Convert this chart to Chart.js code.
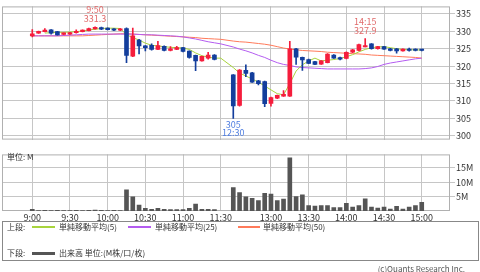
<!DOCTYPE html>
<html>
<head>
<meta charset="utf-8">
<script src="https://cdn.jsdelivr.net/npm/chart.js@4.4.1/dist/chart.umd.min.js"></script>
<style>
body { margin: 0; width: 480px; height: 272px; background: #fff; position: relative; overflow: hidden; font-family: "Noto Sans CJK JP", sans-serif; color: #333; }
#pricebox { position: absolute; left: 0; top: 0; }
#volbox { position: absolute; left: 0; top: 148px; }
.t { position: absolute; font-size: 8px; line-height: 10px; white-space: nowrap; }
.ln { position: absolute; }
#legend { position: absolute; left: 2px; top: 221px; width: 475px; height: 38px; border: 1px solid #888; }
</style>
</head>
<body>
<div id="pricebox"><canvas id="price" width="480" height="146"></canvas></div>
<div id="volbox"><canvas id="vol" width="480" height="74"></canvas></div>
<div class="t" style="left:7px;top:152px;">単位: M</div>

<div id="legend"></div>
<div class="t" style="left:7px;top:222px;">上段:</div>
<div class="ln" style="left:32px;top:226px;width:23px;height:1.5px;background:#a8d43c;"></div>
<div class="t" style="left:59px;top:222px;">単純移動平均(5)</div>
<div class="ln" style="left:128px;top:226px;width:23px;height:1.5px;background:#b45cf0;"></div>
<div class="t" style="left:155px;top:222px;">単純移動平均(25)</div>
<div class="ln" style="left:238px;top:226px;width:22px;height:1.5px;background:#ff7a5a;"></div>
<div class="t" style="left:263px;top:222px;">単純移動平均(50)</div>
<div class="t" style="left:7px;top:248px;">下段:</div>
<div class="ln" style="left:32px;top:252px;width:23px;height:2.5px;background:#555;"></div>
<div class="t" style="left:59px;top:248px;">出来高 単位:(M株/口/枚)</div>
<div class="t" style="right:15px;top:264px;color:#555;">(c)Quants Research Inc.</div>

<script>
const FONT = '"Noto Sans CJK JP", sans-serif';

// 5-minute bars; index 31 is the lunch break separator
const times = ['9:00','9:05','9:10','9:15','9:20','9:25','9:30','9:35','9:40','9:45',
  '9:50','9:55','10:00','10:05','10:10','10:15','10:20','10:25','10:30','10:35',
  '10:40','10:45','10:50','10:55','11:00','11:05','11:10','11:15','11:20','11:25',
  '11:30','',
  '12:30','12:35','12:40','12:45','12:50','12:55','13:00','13:05','13:10','13:15',
  '13:20','13:25','13:30','13:35','13:40','13:45','13:50','13:55','14:00','14:05',
  '14:10','14:15','14:20','14:25','14:30','14:35','14:40','14:45','14:50','14:55','15:00'];

const opens = [328.7,329.5,329.9,330.4,329.9,329.1,329.2,329.6,329.9,330.2,
  330.7,331.1,330.9,330.7,330.3,330.8,322.9,327.5,325.8,326.0,
  324.8,325.7,324.5,324.8,325.3,324.3,323.1,321.5,322.3,323.2,
  null,null,
  317.5,308.7,318.8,318.1,315.8,315.6,309.3,310.8,311.4,311.4,
  325.0,322.5,321.9,321.3,320.6,321.0,323.2,322.4,322.2,324.0,
  324.5,325.5,326.4,325.0,325.6,325.0,325.0,324.4,324.9,324.9,324.8];
const highs = [330.5,330.1,330.8,330.5,330.0,329.6,329.7,330.4,330.4,330.9,
  331.3,331.2,331.0,330.8,330.8,331.0,330.9,327.7,325.9,326.4,
  327.1,325.8,325.6,325.7,325.4,324.4,323.2,322.9,324.0,323.3,
  null,null,
  317.6,319.0,320.4,318.2,315.9,315.7,311.1,311.7,313.0,327.1,
  325.1,322.6,322.0,321.4,321.6,323.6,323.3,322.6,324.1,324.8,
  326.3,327.9,326.5,325.7,325.7,325.1,325.1,325.0,325.2,325.0,324.9];
const lows = [328.4,329.4,329.8,329.2,328.9,329.0,329.1,329.5,329.8,330.1,
  330.6,330.5,330.4,330.2,330.2,321.0,322.7,323.5,324.4,324.6,
  324.7,324.4,324.4,324.7,324.1,322.3,318.7,321.4,322.0,321.8,
  null,null,
  305.0,308.5,317.0,315.3,314.6,308.4,308.5,310.7,311.3,311.3,
  320.5,318.8,320.7,320.4,320.5,320.9,322.2,321.8,322.1,323.9,
  324.4,325.5,324.9,324.9,324.8,324.4,323.7,324.3,324.3,324.4,324.4];
const closes = [329.3,330.0,330.3,329.5,329.0,329.5,329.6,330.0,330.3,330.8,
  331.0,330.6,330.5,330.3,330.7,323.1,328.7,325.8,325.3,324.8,
  325.9,324.5,325.0,325.3,324.2,322.5,321.5,322.8,323.2,321.9,
  null,null,
  308.6,318.9,317.9,315.4,315.0,309.2,311.0,311.6,311.9,325.0,
  322.6,321.8,320.8,320.5,321.5,323.5,322.3,322.0,324.0,324.7,
  326.2,325.9,325.0,325.6,324.9,324.5,324.4,324.9,324.5,324.5,324.5];

const ma5 = [null,null,329.5,329.6,329.7,329.7,329.8,329.9,330.1,330.4,
  330.6,330.8,330.9,330.9,330.8,329.0,328.2,327.5,326.6,326.0,
  325.8,325.6,325.4,325.3,325.2,324.8,323.8,323.0,322.6,322.3,
  322.3,null,
  319.6,318.0,317.2,316.3,315.4,314.3,313.2,312.1,311.8,315.0,
  318.6,320.4,321.5,322.3,321.5,321.7,321.9,322.2,322.7,323.3,
  324.1,324.8,325.3,325.5,325.6,325.3,325.0,324.8,324.7,324.7,324.6];
const ma25 = [328.7,328.7,328.7,328.7,328.7,328.8,328.9,329.0,329.1,329.2,
  329.2,329.2,329.2,329.2,329.2,329.2,329.2,329.1,329.0,329.0,
  328.9,328.8,328.7,328.6,328.4,328.1,327.8,327.4,327.0,326.7,
  326.4,null,
  325.5,324.9,324.4,323.8,323.1,322.5,321.7,321.0,320.5,320.2,
  319.8,319.6,319.5,319.4,319.3,319.2,319.2,319.2,319.2,319.2,
  319.2,319.3,319.5,319.9,320.5,320.9,321.2,321.5,321.8,322.1,322.3];
const ma50 = [328.7,328.7,328.7,328.7,328.7,328.7,328.7,328.7,328.7,328.8,
  328.9,329.0,329.1,329.2,329.3,329.3,329.2,329.1,329.0,328.9,
  328.8,328.7,328.6,328.5,328.4,328.3,328.2,328.0,327.9,327.8,
  327.7,null,
  327.2,327.0,326.9,326.7,326.5,326.3,326.0,325.6,325.2,324.9,
  324.7,324.5,324.4,324.3,324.2,324.0,323.9,323.8,323.7,323.6,
  323.5,323.4,323.2,323.1,323.0,322.9,322.8,322.7,322.6,322.5,322.3];

// volume in millions
const volume = [0.6,0.15,0.2,0.15,0.2,0.15,0.15,0.2,0.15,0.2,
  0.3,0.2,0.15,0.2,0.15,7.4,4.9,2.1,0.9,0.6,
  0.9,0.6,0.5,0.5,0.5,0.9,2.4,0.6,0.6,0.5,
  null,null,
  8.1,6.4,4.9,4.4,3.6,6.1,5.9,3.6,4.1,18.5,
  5.0,5.6,1.9,1.7,1.9,1.9,1.2,1.2,2.7,1.4,
  1.9,4.2,1.4,1.0,1.4,0.7,1.6,0.7,1.4,1.9,3.0];

const timeTicks = ['9:00','9:30','10:00','10:30','11:00','11:30','13:00','13:30','14:00','14:30','15:00'];
const priceTicks = [300,305,310,315,320,325,330,335];
const volTicks = [5,10,15];
const highMarks = ['9:50','14:15'];
const lowMarks = ['12:30'];

const UP = '#f51d3c', DOWN = '#133e9c';
const GRID = '#c6c6c6';
const tickIdx = timeTicks.map(t => times.indexOf(t));
const idx = times.map((t, i) => i).filter(i => opens[i] !== null);
const candleColor = c => (c.raw && closes[c.raw.x] >= opens[c.raw.x]) ? UP : DOWN;
const xMin = -4.82, xMax = 66.5;

const frame = {
    id: 'frame',
    beforeDatasetsDraw(chart) {
        const a = chart.chartArea, ctx = chart.ctx;
        ctx.save();
        ctx.strokeStyle = '#b0b0b0';
        ctx.lineWidth = 1;
        ctx.strokeRect(a.left + 0.5, a.top + 0.5, a.width - 1, a.height - 1);
        ctx.restore();
    }
};

const marks = {
    id: 'marks',
    afterDatasetsDraw(chart) {
        const ctx = chart.ctx, x = chart.scales.x, y = chart.scales.y;
        ctx.save();
        ctx.font = '9px ' + FONT;
        ctx.textAlign = 'center';
        ctx.textBaseline = 'middle';
        ctx.fillStyle = '#e06a6a';
        highMarks.forEach(t => {
            const i = times.indexOf(t);
            const px = x.getPixelForValue(i), py = y.getPixelForValue(highs[i]);
            ctx.fillText(highs[i].toFixed(1), px, py - 8.5);
            ctx.fillText(t, px, py - 17.5);
        });
        ctx.fillStyle = '#4f7ee0';
        lowMarks.forEach(t => {
            const i = times.indexOf(t);
            const px = x.getPixelForValue(i), py = y.getPixelForValue(lows[i]);
            ctx.fillText(String(Math.round(lows[i] * 10) / 10), px, py + 6);
            ctx.fillText(t, px, py + 14.5);
        });
        ctx.restore();
    }
};

const xAxis = (showLabels) => ({
    type: 'linear',
    min: xMin,
    max: xMax,
    offset: false,
    grid: { color: GRID, drawTicks: false, offset: false },
    border: { display: false },
    ticks: {
        display: showLabels,
        autoSkip: false,
        maxRotation: 0,
        padding: 1,
        color: '#333',
        font: { size: 9, family: FONT },
        callback: v => times[v]
    },
    afterBuildTicks: s => { s.ticks = tickIdx.map(v => ({ value: v })); },
    afterFit: s => { s.height = showLabels ? 11 : 0; }
});

const maLine = (data, color) => ({
    type: 'line',
    data: times.map((t, i) => ({ x: i, y: data[i] })),
    borderColor: color,
    borderWidth: 1,
    pointRadius: 0,
    spanGaps: true,
    order: 2
});

new Chart(document.getElementById('price'), {
    type: 'bar',
    data: {
        datasets: [
            {
                data: idx.map(i => ({ x: i, y: [opens[i], closes[i]] })),
                backgroundColor: candleColor,
                barThickness: 4,
                minBarLength: 1.5,
                grouped: false,
                order: 0
            },
            {
                data: idx.map(i => ({ x: i, y: [lows[i], highs[i]] })),
                backgroundColor: candleColor,
                barThickness: 1,
                grouped: false,
                order: 1
            },
            maLine(ma5, '#a8d43c'),
            maLine(ma25, '#b45cf0'),
            maLine(ma50, '#ff7a5a')
        ]
    },
    options: {
        responsive: false,
        animation: false,
        layout: { padding: { left: 2, top: 1, right: 0, bottom: 3 } },
        plugins: { legend: { display: false }, tooltip: { enabled: false } },
        scales: {
            x: xAxis(false),
            y: {
                position: 'right',
                min: 298.92,
                max: 337.15,
                grid: { color: GRID, tickLength: 5 },
                border: { display: false },
                ticks: { padding: 1, color: '#333', font: { size: 9, family: FONT } },
                afterBuildTicks: s => { s.ticks = priceTicks.map(v => ({ value: v })); },
                afterFit: s => { s.width = 30; }
            }
        }
    },
    plugins: [frame, marks]
});

new Chart(document.getElementById('vol'), {
    type: 'bar',
    data: {
        datasets: [{
            data: idx.map(i => ({ x: i, y: volume[i] })),
            backgroundColor: '#555555',
            barThickness: 4,
            grouped: false
        }]
    },
    options: {
        responsive: false,
        animation: false,
        layout: { padding: { left: 2, top: 4, right: 0, bottom: 0 } },
        plugins: { legend: { display: false }, tooltip: { enabled: false } },
        scales: {
            x: xAxis(true),
            y: {
                position: 'right',
                min: 0,
                max: 19.67,
                grid: { color: GRID, tickLength: 5 },
                border: { display: false },
                ticks: { padding: 1, color: '#333', font: { size: 9, family: FONT }, callback: v => v + 'M' },
                afterBuildTicks: s => { s.ticks = volTicks.map(v => ({ value: v })); },
                afterFit: s => { s.width = 30; }
            }
        }
    },
    plugins: [frame]
});
</script>
</body>
</html>
